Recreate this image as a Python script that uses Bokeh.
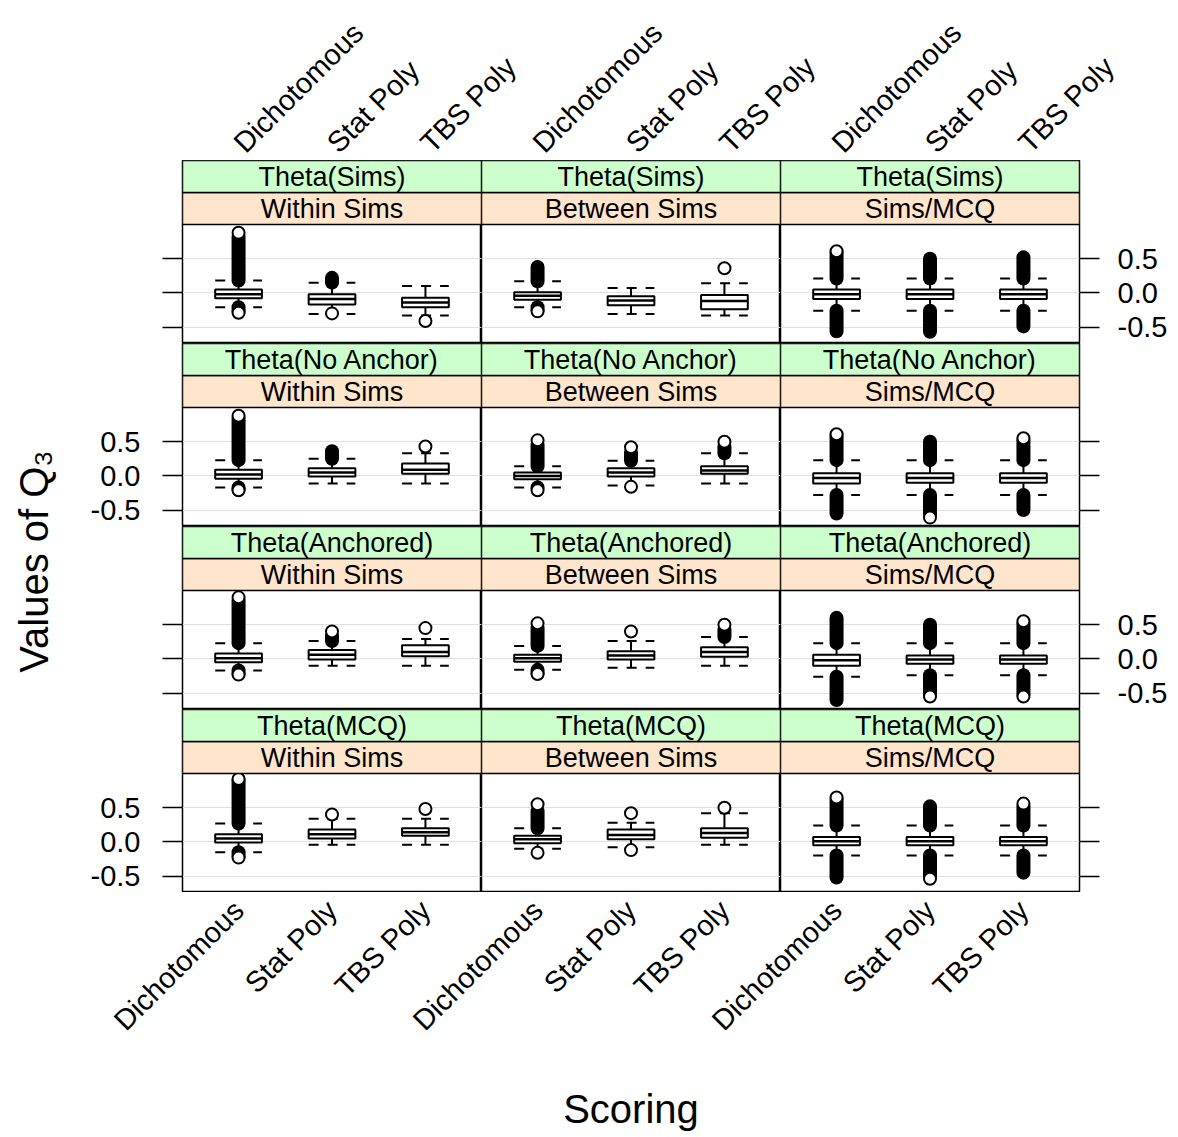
import math
from bokeh.plotting import figure
from bokeh.models import (ColumnDataSource, FactorRange, Range1d, FixedTicker, LinearAxis,
                          BoxAnnotation, Label, Grid, NumeralTickFormatter)
from bokeh.transform import dodge
from bokeh.layouts import gridplot, row, column
from bokeh.embed import file_html
from bokeh.resources import INLINE

nan = float("nan")

# ---------------- data ----------------
scoring = ["Dichotomous", "Stat Poly", "TBS Poly"]
theta_labels = ["Theta(Sims)", "Theta(No Anchor)", "Theta(Anchored)", "Theta(MCQ)"]
design_labels = ["Within Sims", "Between Sims", "Sims/MCQ"]
y_ticks = [-0.5, 0.0, 0.5]

# one triple per panel (row-major: theta rows x design columns); triple = Dichotomous, Stat Poly, TBS Poly
lower_whisker = [
    [-0.21, -0.31, -0.33], [-0.21, -0.31, -0.33], [-0.26, -0.26, -0.26],
    [-0.17, -0.11, -0.11], [-0.17, -0.14, -0.11], [-0.28, -0.28, -0.28],
    [-0.17, -0.10, -0.10], [-0.16, -0.13, -0.10], [-0.26, -0.24, -0.24],
    [-0.15, -0.04, -0.04], [-0.10, -0.08, -0.04], [-0.20, -0.20, -0.20],
]
q1 = [
    [-0.08, -0.17, -0.21], [-0.10, -0.18, -0.24], [-0.09, -0.09, -0.09],
    [-0.04, -0.01, 0.03], [-0.05, -0.01, 0.03], [-0.11, -0.10, -0.10],
    [-0.05, -0.01, 0.04], [-0.04, -0.01, 0.03], [-0.10, -0.07, -0.07],
    [-0.01, 0.05, 0.09], [-0.02, 0.04, 0.06], [-0.05, -0.05, -0.05],
]
median = [
    [-0.02, -0.09, -0.14], [-0.04, -0.11, -0.12], [-0.02, -0.02, -0.02],
    [0.02, 0.05, 0.09], [0.00, 0.05, 0.08], [-0.03, -0.03, -0.03],
    [0.01, 0.06, 0.10], [0.01, 0.05, 0.10], [-0.02, -0.01, -0.01],
    [0.05, 0.11, 0.14], [0.04, 0.10, 0.13], [0.01, 0.01, 0.01],
]
q3 = [
    [0.05, -0.02, -0.07], [0.01, -0.05, -0.03], [0.05, 0.05, 0.05],
    [0.09, 0.11, 0.18], [0.05, 0.11, 0.14], [0.04, 0.04, 0.04],
    [0.08, 0.13, 0.20], [0.06, 0.11, 0.17], [0.06, 0.05, 0.05],
    [0.11, 0.18, 0.20], [0.09, 0.18, 0.20], [0.07, 0.07, 0.07],
]
upper_whisker = [
    [0.18, 0.15, 0.10], [0.17, 0.07, 0.14], [0.21, 0.21, 0.21],
    [0.23, 0.25, 0.33], [0.14, 0.22, 0.33], [0.23, 0.23, 0.23],
    [0.23, 0.26, 0.29], [0.19, 0.26, 0.32], [0.23, 0.23, 0.23],
    [0.27, 0.34, 0.34], [0.20, 0.28, 0.42], [0.24, 0.24, 0.24],
]
# end of the dense run of high / low outliers (nan = no dense run)
high_outlier_run = [
    [0.82, 0.22, nan], [0.38, nan, nan], [0.58, 0.50, 0.52],
    [0.84, 0.36, nan], [0.45, 0.33, 0.42], [0.58, 0.50, 0.52],
    [0.86, 0.33, nan], [0.45, nan, 0.42], [0.60, 0.50, 0.52],
    [0.90, nan, nan], [0.45, nan, nan], [0.62, 0.52, 0.52],
]
low_outlier_run = [
    [-0.27, nan, nan], [-0.25, nan, nan], [-0.56, -0.57, -0.49],
    [-0.20, nan, nan], [-0.17, nan, nan], [-0.55, -0.57, -0.50],
    [-0.22, nan, nan], [-0.21, nan, nan], [-0.60, -0.52, -0.52],
    [-0.21, nan, nan], [nan, nan, nan], [-0.52, -0.50, -0.45],
]
# single visible outlier circles (extremes)
high_outlier = [
    [0.88, nan, nan], [nan, nan, 0.36], [0.61, nan, nan],
    [0.88, nan, 0.43], [0.52, 0.42, 0.50], [0.61, nan, 0.55],
    [0.90, 0.40, 0.45], [0.52, 0.40, 0.50], [nan, nan, 0.55],
    [0.92, 0.40, 0.48], [0.55, 0.42, 0.50], [0.65, nan, 0.56],
]
low_outlier = [
    [-0.29, -0.30, -0.41], [-0.27, nan, nan], [nan, nan, nan],
    [-0.21, nan, nan], [-0.21, -0.16, nan], [nan, -0.61, nan],
    [-0.23, nan, nan], [-0.22, nan, nan], [nan, -0.55, -0.55],
    [-0.23, nan, nan], [-0.16, -0.12, nan], [nan, -0.54, nan],
]

# ---------------- layout / style ----------------
FONT = "Liberation Sans"
FRAME_W = 299
PANEL_H = 119
STRIP_H = 32
Y_LO, Y_HI = -0.74, 1.0
LEFT_W = 68
BORDER_L = 114
BORDER_R = 95
TOP_H = 160
BOTTOM_H = 244
GREEN = "#ccffcc"
PEACH = "#ffe5cc"
GRID_COL = "#e0e0e0"
PAD = 0.1      # category padding at panel edges (category units)


def y_axis(show_labels, standoff):
    return LinearAxis(
        ticker=FixedTicker(ticks=y_ticks), formatter=NumeralTickFormatter(format="0.0"),
        axis_line_color=None, major_tick_out=20, major_tick_in=0,
        minor_tick_out=0, minor_tick_in=0, major_tick_line_width=1.5,
        major_tick_line_color="black", major_label_standoff=standoff,
        major_label_text_font=FONT, major_label_text_font_size="29px",
        major_label_text_color="black" if show_labels else None)


def make_panel(r, c):
    i = r * 3 + c
    unit = (Y_HI - Y_LO) / PANEL_H
    strip = STRIP_H * unit
    y_top = Y_HI + 2 * strip
    xr = FactorRange(factors=scoring, range_padding=PAD, range_padding_units="absolute")
    p = figure(
        x_range=xr, y_range=Range1d(Y_LO, y_top),
        frame_width=FRAME_W, frame_height=PANEL_H + 2 * STRIP_H,
        min_border_left=BORDER_L if c == 0 else 0,
        min_border_right=BORDER_R if c == 2 else 0,
        min_border_top=0, min_border_bottom=0,
        x_axis_location=None, y_axis_location=None,
        toolbar_location=None, output_backend="svg",
        outline_line_color="black", outline_line_width=1.5,
        background_fill_color="white", border_fill_color="white")
    p.grid.visible = False
    p.add_layout(Grid(dimension=1, ticker=FixedTicker(ticks=y_ticks),
                      grid_line_color=GRID_COL, grid_line_width=1))

    src = ColumnDataSource(dict(
        x=scoring, lw=lower_whisker[i], q1=q1[i], med=median[i], q3=q3[i],
        uw=upper_whisker[i], hr=high_outlier_run[i], lr=low_outlier_run[i],
        ho=high_outlier[i], lo=low_outlier[i]))
    left = dodge("x", -0.25, range=xr)
    right = dodge("x", 0.25, range=xr)

    # dense runs of overlapping outliers
    p.segment(x0="x", y0="uw", x1="x", y1="hr", line_width=14, line_cap="round",
              line_color="black", source=src)
    p.segment(x0="x", y0="lw", x1="x", y1="lr", line_width=14, line_cap="round",
              line_color="black", source=src)
    # whiskers and dashed caps
    p.segment(x0="x", y0="q3", x1="x", y1="uw", line_width=2, line_color="black", source=src)
    p.segment(x0="x", y0="q1", x1="x", y1="lw", line_width=2, line_color="black", source=src)
    p.segment(x0=left, y0="uw", x1=right, y1="uw", line_width=2, line_color="black",
              line_dash="10 9", source=src)
    p.segment(x0=left, y0="lw", x1=right, y1="lw", line_width=2, line_color="black",
              line_dash="10 9", source=src)
    # box and median
    p.vbar(x="x", width=0.5, bottom="q1", top="q3", fill_color="white",
           line_color="black", line_width=2, source=src)
    p.segment(x0=left, y0="med", x1=right, y1="med", line_width=2.5,
              line_color="black", source=src)
    # extreme outlier circles
    p.scatter(x="x", y="ho", marker="circle", size=12, fill_color="white",
              line_color="black", line_width=2, source=src)
    p.scatter(x="x", y="lo", marker="circle", size=12, fill_color="white",
              line_color="black", line_width=2, source=src)

    # strips
    p.add_layout(BoxAnnotation(bottom=Y_HI, top=Y_HI + strip, fill_color=PEACH, fill_alpha=1,
                               line_color="black", line_alpha=1, line_width=1.5))
    p.add_layout(BoxAnnotation(bottom=Y_HI + strip, top=y_top, fill_color=GREEN, fill_alpha=1,
                               line_color="black", line_alpha=1, line_width=1.5))
    p.add_layout(Label(x=1.5, y=Y_HI + 1.5 * strip, text=theta_labels[r], text_align="center",
                       text_baseline="middle", text_font=FONT, text_font_size="27px",
                       text_color="black"))
    p.add_layout(Label(x=1.5, y=Y_HI + 0.5 * strip, text=design_labels[c], text_align="center",
                       text_baseline="middle", text_font=FONT, text_font_size="27px",
                       text_color="black"))

    if c == 0:
        p.add_layout(y_axis(show_labels=(r % 2 == 1), standoff=22), "left")
    if c == 2:
        p.add_layout(y_axis(show_labels=(r % 2 == 0), standoff=18), "right")
    return p


# category label positions across the three panel columns (in tenths of a category unit)
span = int(round(10 * (len(scoring) + 2 * PAD)))   # 32 per panel
tick_pos = []
tick_text = {}
for c in range(3):
    for k, name in enumerate(scoring):
        t = c * span + int(round(10 * PAD)) + 5 + 10 * k
        tick_pos.append(t)
        tick_text[t] = name
x_total = 3 * span  # 96


def label_strip(side):
    f = figure(
        x_range=Range1d(0, x_total), y_range=Range1d(0, 1),
        frame_width=3 * FRAME_W, frame_height=1,
        min_border_left=BORDER_L, min_border_right=BORDER_R,
        min_border_top=TOP_H - 1 if side == "above" else 0,
        min_border_bottom=BOTTOM_H - 1 if side == "below" else 0,
        x_axis_location=None, y_axis_location=None,
        toolbar_location=None, output_backend="svg", outline_line_color=None)
    f.grid.visible = False
    ax = LinearAxis(
        ticker=FixedTicker(ticks=tick_pos), major_label_overrides=tick_text,
        major_label_orientation=math.pi / 4, axis_line_color=None,
        major_tick_line_color=None, major_tick_out=0, major_tick_in=0,
        minor_tick_out=0, minor_tick_in=0, major_label_standoff=12,
        major_label_text_font=FONT, major_label_text_font_size="29px",
        major_label_text_color="black")
    if side == "below":
        ax.axis_label = "Scoring"
        ax.axis_label_text_font = FONT
        ax.axis_label_text_font_size = "40px"
        ax.axis_label_text_font_style = "normal"
        ax.axis_label_text_color = "black"
        ax.axis_label_standoff = 36
    f.add_layout(ax, side)
    return f


panels = [[make_panel(r, c) for c in range(3)] for r in range(4)]
grid = gridplot(panels, toolbar_location=None)
top = label_strip("above")
bottom = label_strip("below")

total_h = TOP_H + 4 * (PANEL_H + 2 * STRIP_H) + BOTTOM_H
ylab = figure(width=LEFT_W, height=total_h, x_range=Range1d(0, LEFT_W), y_range=Range1d(0, total_h),
              min_border=0, x_axis_location=None, y_axis_location=None,
              toolbar_location=None, output_backend="svg", outline_line_color=None)
ylab.grid.visible = False
ylab.add_layout(Label(x=33, y=total_h - 561, text="Values of Q\u2083", angle=math.pi / 2,
                      text_align="center", text_baseline="middle", text_font=FONT,
                      text_font_size="40px", text_color="black"))

layout = row(ylab, column(top, grid, bottom))
open("out.html", "w").write(file_html(layout, INLINE))
